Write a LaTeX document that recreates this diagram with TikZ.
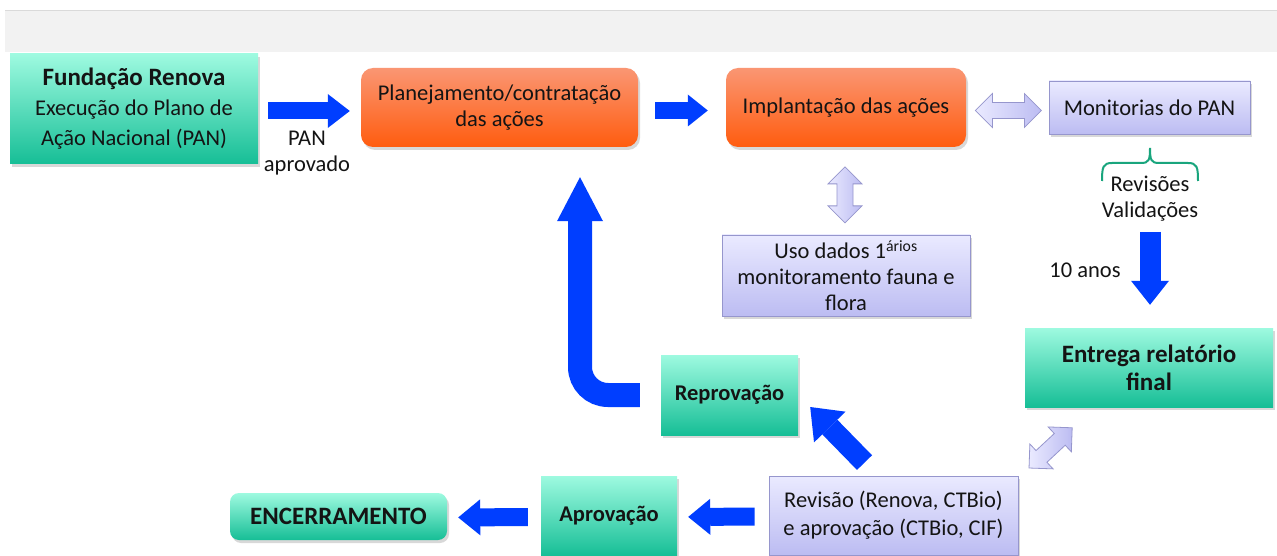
\documentclass[tikz,border=0pt]{standalone}
\usepackage{fontspec}
\setmainfont{Carlito}
\usetikzlibrary{arrows.meta,shadows,calc}
\definecolor{tealT}{RGB}{158,250,224}
\definecolor{tealB}{RGB}{22,190,150}
\definecolor{oraT}{RGB}{250,150,115}
\definecolor{oraB}{RGB}{255,92,15}
\definecolor{lavT}{RGB}{234,234,255}
\definecolor{lavB}{RGB}{188,188,242}
\definecolor{lavD}{RGB}{150,150,205}
\definecolor{bluA}{RGB}{0,62,255}
\definecolor{brc}{RGB}{25,165,125}
\definecolor{txt}{RGB}{20,20,20}
\definecolor{band}{RGB}{242,242,242}
\definecolor{bandline}{RGB}{218,218,218}
\begin{document}
\begin{tikzpicture}[x=1pt,y=-1pt,
  every node/.style={font=\fontsize{22.5}{26}\selectfont, text=txt, align=center, inner sep=0pt},
  shad/.style={drop shadow={shadow xshift=2pt,shadow yshift=-3pt,opacity=0.3}},
  tealbox/.style={shad, top color=tealT, bottom color=tealB},
  orabox/.style={shad, top color=oraT, bottom color=oraB, rounded corners=12pt},
  lavbox/.style={shad, top color=lavT, bottom color=lavB, draw=lavD, line width=0.8pt},
  bigbold/.style={font=\fontsize{25}{28}\selectfont\bfseries},
  midbold/.style={font=\fontsize{22.5}{26}\selectfont\bfseries},
  barrow/.style n args={3}{draw=bluA, line width=#1, -{Triangle[width=#2,length=#3,line width=0pt]}},
  lavarrow/.style={draw=lavD, line width=0.8pt, left color=lavT, right color=lavB, line join=miter},
  pics/dblarr/.style={code={
    \draw[lavarrow] ({-#1/2},0) -- ({-#1/2+17},-17) -- ({-#1/2+17},-8) -- ({#1/2-17},-8) -- ({#1/2-17},-17)
      -- ({#1/2},0) -- ({#1/2-17},17) -- ({#1/2-17},8) -- ({-#1/2+17},8) -- ({-#1/2+17},17) -- cycle;}},
]
\useasboundingbox (0,0) rectangle (1277,556);
\fill[white] (0,0) rectangle (1277,556);
\fill[band] (5,11) rectangle (1277,52);
\draw[bandline, line width=1pt] (5,11) -- (1277,11);

% nodes
\node[tealbox, font=\fontsize{22.5}{30}\selectfont, minimum width=248pt, minimum height=110pt] (fund) at (134,109)
  {{\fontsize{25}{30}\selectfont\bfseries Fundação Renova}\\Execução do Plano de\\Ação Nacional (PAN)};
\node[orabox, minimum width=277pt, minimum height=79pt] (plan) at (499.5,107.5)
  {Planejamento/contratação\\das ações};
\node[orabox, minimum width=240pt, minimum height=79pt] (impl) at (846,107.5)
  {Implantação das ações};
\node[lavbox, minimum width=201pt, minimum height=53pt] (mon) at (1149.5,107.5)
  {Monitorias do PAN};
\node (rv) at (1150,199) {Revisões\\Validações};
\node (anos) at (1085,270) {10 anos};
\node[lavbox, minimum width=248pt, minimum height=81pt] (uso) at (846,275.5)
  {Uso dados 1\textsuperscript{ários}\\monitoramento fauna e\\flora};
\node[tealbox, bigbold, minimum width=248pt, minimum height=79pt] (ent) at (1149,367.5)
  {Entrega relatório\\final};
\node[tealbox, midbold, minimum width=137pt, minimum height=80pt] (rep) at (729.5,395)
  {Reprovação};
\node[lavbox, font=\fontsize{22.5}{28}\selectfont, minimum width=249pt, minimum height=79pt] (rev) at (893.5,515.5)
  {Revisão (Renova, CTBio)\\e aprovação (CTBio, CIF)};
\node[tealbox, midbold, minimum width=136pt, minimum height=80pt] (apr) at (609,516)
  {Aprovação};
\node[tealbox, bigbold, rounded corners=9pt, minimum width=217pt, minimum height=47pt] (enc) at (338.5,516.5)
  {ENCERRAMENTO};
\node (pan) at (307,153) {PAN\\aprovado};

% brace under Monitorias
\draw[brc, line width=2pt] (1102,181) .. controls (1102,167) and (1103,163) .. (1112,163) -- (1141,163)
  .. controls (1149,163) and (1150,160) .. (1150,148)
  .. controls (1150,160) and (1151,163) .. (1159,163) -- (1188,163)
  .. controls (1197,163) and (1198,167) .. (1198,181);

% blue block arrows
\draw[barrow={17pt}{34pt}{22pt}, shorten <=10pt, shorten >=11pt] ([yshift=-2pt]fund.east) -- ([yshift=-2pt]fund.east -| plan.west);
\draw[barrow={17pt}{32pt}{20pt}, shorten <=17pt, shorten >=18pt] ([yshift=-3pt]plan.east) -- ([yshift=-3pt]impl.west);
\draw[barrow={21pt}{38pt}{24pt}, shorten <=10pt, shorten >=23pt] (rv.south) -- (rv.south |- ent.north);
\draw[barrow={24pt}{46pt}{44pt}, rounded corners=28pt, shorten <=21pt, shorten >=30pt] (rep.west) -| ([xshift=80.5pt]plan.south);
\draw[barrow={21pt}{44pt}{28pt}] ([shift={(-29,-13)}]rev.north) -- ([shift={(12,12)}]rep.east);
\draw[barrow={18pt}{36pt}{22pt}, shorten <=14pt, shorten >=11pt] ([yshift=-1pt]rev.west) -- ([yshift=-1pt]apr.east);
\draw[barrow={18pt}{36pt}{22pt}, shorten <=13pt, shorten >=11pt] ([yshift=-1pt]apr.west) -- ([yshift=-1pt]enc.east);

% lavender double arrows
\pic at ($(impl.east)!0.5!(mon.west)+(1,3)$) {dblarr=66};
\pic[rotate=90] at ($(impl.south)!0.5!(uso.north)+(-1,4)$) {dblarr=56};
\pic[rotate=43] at ($(ent.south west)!0.5!(rev.north east)+(29,6.5)$) {dblarr=59};
\end{tikzpicture}
\end{document}
